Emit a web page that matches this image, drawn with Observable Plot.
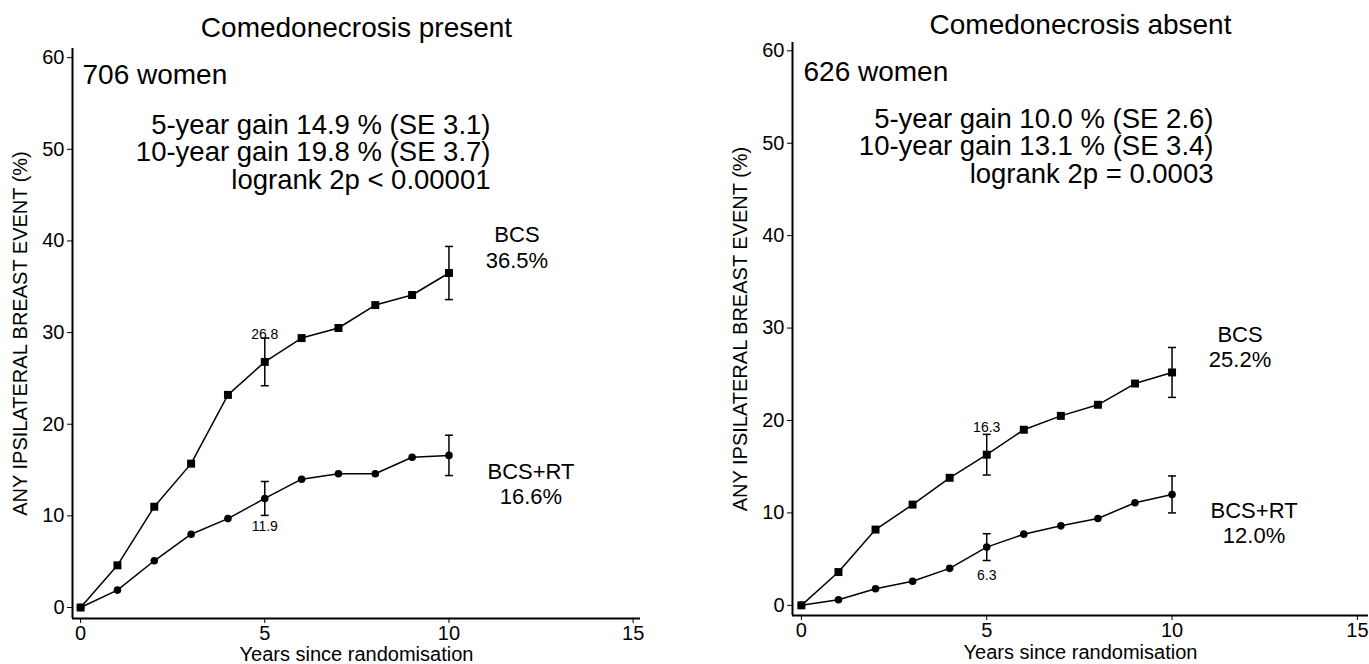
<!DOCTYPE html>
<html>
<head>
<meta charset="utf-8">
<script src="https://cdn.jsdelivr.net/npm/d3@7"></script>
<script src="https://cdn.jsdelivr.net/npm/@observablehq/plot@0.6"></script>
<style>
  html, body { margin: 0; padding: 0; background: #fff; }
  #wrap { display: flex; width: 1369px; height: 664px; overflow: hidden; }
  #wrap svg { display: block; }
</style>
</head>
<body>
<div id="wrap"></div>
<script>
// ---------- data ----------
const years = [0, 1, 2, 3, 4, 5, 6, 7, 8, 9, 10];
const xTicks = [0, 5, 10, 15];
const yTicks = [0, 10, 20, 30, 40, 50, 60];
const errYears = [5, 10];
const labelYear = 5;

const presentBCS = [0, 4.6, 11.0, 15.7, 23.2, 26.8, 29.4, 30.5, 33.0, 34.1, 36.5];
const presentRT  = [0, 1.9, 5.1, 8.0, 9.7, 11.9, 14.0, 14.6, 14.6, 16.4, 16.6];
const presentBCSerr = [2.6, 2.9];
const presentRTerr  = [1.85, 2.2];

const absentBCS = [0, 3.6, 8.2, 10.9, 13.8, 16.3, 19.0, 20.5, 21.7, 24.0, 25.2];
const absentRT  = [0, 0.6, 1.8, 2.6, 4.0, 6.3, 7.7, 8.6, 9.4, 11.1, 12.0];
const absentBCSerr = [2.2, 2.7];
const absentRTerr  = [1.45, 2.0];

const titles = ["Comedonecrosis present", "Comedonecrosis absent"];
const womenLabels = ["706 women", "626 women"];
const presentStats = ["5-year gain 14.9 % (SE 3.1)", "10-year gain 19.8 % (SE 3.7)", "logrank 2p < 0.00001"];
const absentStats  = ["5-year gain 10.0 % (SE 2.6)", "10-year gain 13.1 % (SE 3.4)", "logrank 2p = 0.0003"];
const seriesNames = ["BCS", "BCS+RT"];
const xLabel = "Years since randomisation";
const yLabel = "ANY IPSILATERAL BREAST EVENT (%)";

// ---------- drawing ----------
const FONT = "'Liberation Sans', Arial, Helvetica, sans-serif";
const capSymbol = { draw(ctx, size) { const w = Math.sqrt(size / Math.PI); ctx.moveTo(-w, 0); ctx.lineTo(w, 0); } };

function panel(o) {
  const rows = (vals) => years.map((x, i) => ({ x, y: vals[i] }));
  const errs = (vals, half) => errYears.map((x, i) => {
    const y = vals[years.indexOf(x)];
    return { x, y, lo: y - half[i], hi: y + half[i] };
  });
  const bcs = rows(o.bcs), rt = rows(o.rt);
  const eb = errs(o.bcs, o.bcsErr), er = errs(o.rt, o.rtErr);
  const allErr = eb.concat(er);
  const lastB = bcs[bcs.length - 1], lastR = rt[rt.length - 1];
  const fiveB = bcs.filter(d => d.x === labelYear), fiveR = rt.filter(d => d.x === labelYear);

  return Plot.plot({
    width: o.width, height: 664,
    marginLeft: o.ml, marginRight: o.mr, marginTop: o.mt, marginBottom: o.mb,
    x: { domain: o.xDomain },
    y: { domain: o.yDomain },
    style: { fontFamily: FONT, fontSize: "20px", color: "#000", background: "#fff", overflow: "visible" },
    marks: [
      Plot.axisX({ ticks: xTicks, tickSize: 5, tickPadding: 2, label: null, fontSize: 20, strokeWidth: 1 }),
      Plot.axisY({ ticks: yTicks, tickSize: 5, tickPadding: 3, label: null, fontSize: 20, strokeWidth: 1 }),
      Plot.ruleX([o.xDomain[0]], { stroke: "#000", strokeWidth: 2 }),
      Plot.ruleY([o.yDomain[0]], { stroke: "#000", strokeWidth: 2 }),
      Plot.lineY(bcs, { x: "x", y: "y", stroke: "#000", strokeWidth: 1.5 }),
      Plot.lineY(rt, { x: "x", y: "y", stroke: "#000", strokeWidth: 1.5 }),
      Plot.ruleX(allErr, { x: "x", y1: "lo", y2: "hi", stroke: "#000", strokeWidth: 1.5 }),
      Plot.dot(allErr, { x: "x", y: "lo", symbol: capSymbol, r: 4, stroke: "#000", fill: "none", strokeWidth: 1.5 }),
      Plot.dot(allErr, { x: "x", y: "hi", symbol: capSymbol, r: 4, stroke: "#000", fill: "none", strokeWidth: 1.5 }),
      Plot.dot(bcs, { x: "x", y: "y", symbol: "square", r: 4.5, fill: "#000", stroke: "none" }),
      Plot.dot(rt, { x: "x", y: "y", symbol: "circle", r: 3.8, fill: "#000", stroke: "none" }),
      Plot.text(fiveB, { x: "x", y: "y", text: d => d.y.toFixed(1), dy: -27, fontSize: 14, fill: "#000" }),
      Plot.text(fiveR, { x: "x", y: "y", text: d => d.y.toFixed(1), dy: 28, fontSize: 14, fill: "#000" }),
      Plot.text([lastB], { x: "x", y: "y", text: d => seriesNames[0] + "\n" + d.y.toFixed(1) + "%", dx: 68, dy: -26, fontSize: 22, lineHeight: 1.15, fill: "#000" }),
      Plot.text([lastR], { x: "x", y: "y", text: d => seriesNames[1] + "\n" + d.y.toFixed(1) + "%", dx: 82, dy: 28, fontSize: 22, lineHeight: 1.15, fill: "#000" }),
      Plot.text([o.title], { text: d => d, frameAnchor: "top", dy: o.titleDy, fontSize: 28, lineAnchor: "middle", fill: "#000" }),
      Plot.text([o.women], { text: d => d, frameAnchor: "top-left", dx: o.womenDx, dy: o.womenDy, fontSize: 28, textAnchor: "start", lineAnchor: "middle", fill: "#000" }),
      Plot.text([o.stats.join("\n")], { text: d => d, frameAnchor: "top-left", dx: o.statsDx, dy: o.statsDy, fontSize: 27.5, textAnchor: "end", lineAnchor: "middle", lineHeight: 1.0, fill: "#000" }),
      Plot.text([xLabel], { text: d => d, frameAnchor: "bottom", dy: o.xLabelDy, fontSize: 20, lineAnchor: "middle", fill: "#000" }),
      Plot.text([yLabel], { text: d => d, frameAnchor: "left", dx: -52, rotate: -90, fontSize: 20, textAnchor: "middle", lineAnchor: "middle", fill: "#000" })
    ]
  });
}

const wrap = document.getElementById("wrap");
wrap.appendChild(panel({
  width: 684, ml: 72, mr: 44, mt: 48, mb: 46,
  xDomain: [-0.22, 15.2], yDomain: [-1.2, 61],
  bcs: presentBCS, rt: presentRT, bcsErr: presentBCSerr, rtErr: presentRTerr,
  title: titles[0], women: womenLabels[0], stats: presentStats,
  titleDy: -20, womenDx: 10, womenDy: 27, statsDx: 418, statsDy: 104, xLabelDy: 36
}));
wrap.appendChild(panel({
  width: 685, ml: 108, mr: 1, mt: 42, mb: 49,
  xDomain: [-0.24, 15.3], yDomain: [-1.1, 60.9],
  bcs: absentBCS, rt: absentRT, bcsErr: absentBCSerr, rtErr: absentRTerr,
  title: titles[1], women: womenLabels[1], stats: absentStats,
  titleDy: -17, womenDx: 11, womenDy: 30, statsDx: 421, statsDy: 104, xLabelDy: 37
}));
</script>
</body>
</html>
